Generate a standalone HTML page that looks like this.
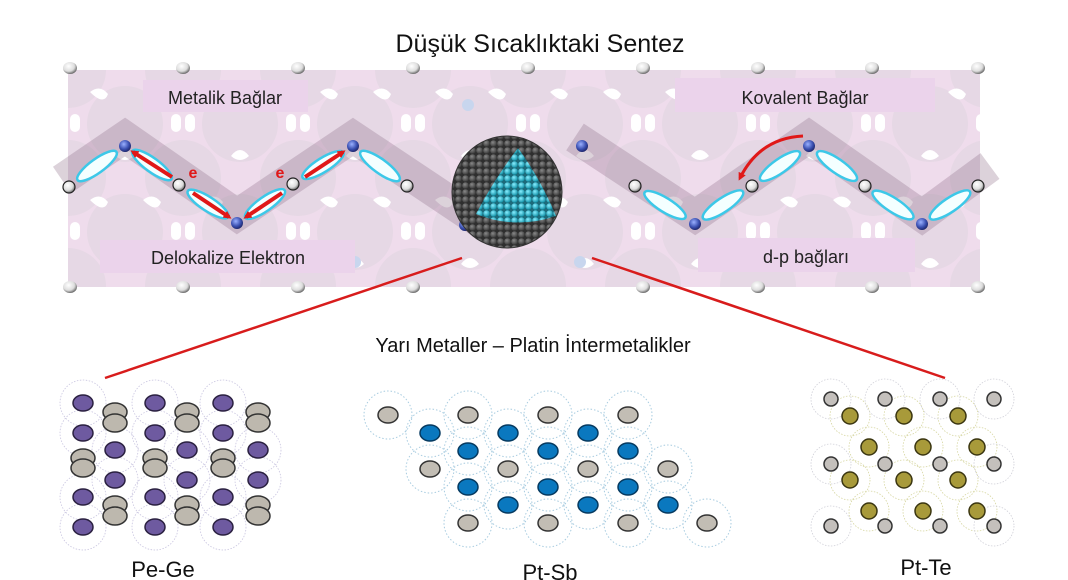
<!DOCTYPE html>
<html><head><meta charset="utf-8"><style>
html,body{margin:0;padding:0;background:#fff;}
svg{display:block;}
text{font-family:"Liberation Sans",sans-serif;}
</style></head><body>
<svg width="1068" height="580" viewBox="0 0 1068 580" xmlns="http://www.w3.org/2000/svg">
<defs>
<radialGradient id="wb" cx="0.4" cy="0.35" r="0.7"><stop offset="0" stop-color="#fff"/><stop offset="0.6" stop-color="#ddd"/><stop offset="1" stop-color="#555"/></radialGradient>
<radialGradient id="bb" cx="0.4" cy="0.35" r="0.7"><stop offset="0" stop-color="#9ab0ff"/><stop offset="0.6" stop-color="#3a4fb0"/><stop offset="1" stop-color="#1a2060"/></radialGradient>
<radialGradient id="gb" cx="0.4" cy="0.35" r="0.7"><stop offset="0" stop-color="#888"/><stop offset="1" stop-color="#333"/></radialGradient>
<radialGradient id="cb" cx="0.4" cy="0.35" r="0.7"><stop offset="0" stop-color="#8ef"/><stop offset="1" stop-color="#0a8aa0"/></radialGradient>
<pattern id="dots" width="7" height="7" patternUnits="userSpaceOnUse"><rect width="7" height="7" fill="#2e2e2e"/><circle cx="3.5" cy="3.5" r="3.3" fill="url(#gb)"/></pattern>
<pattern id="cdots" width="7" height="7" patternUnits="userSpaceOnUse"><rect width="7" height="7" fill="#1d6a7a"/><circle cx="3.5" cy="3.5" r="3.2" fill="url(#cb)"/></pattern>
<pattern id="lat" x="68" y="70" width="115" height="108" patternUnits="userSpaceOnUse">
<rect width="115" height="108" fill="#efdcec"/>
<circle cx="57" cy="54" r="38" fill="#ddd3dc" opacity="0.45"/>
<circle cx="0" cy="0" r="38" fill="#ddd3dc" opacity="0.45"/>
<circle cx="115" cy="0" r="38" fill="#ddd3dc" opacity="0.45"/>
<circle cx="0" cy="108" r="38" fill="#ddd3dc" opacity="0.45"/>
<circle cx="115" cy="108" r="38" fill="#ddd3dc" opacity="0.45"/>
<path d="M22 22 q10 -8 18 2 q-4 12 -18 -2z" fill="#fff"/>
<path d="M75 22 q10 -8 18 2 q-4 12 -18 -2z" fill="#fff"/>
<rect x="2" y="44" width="10" height="18" rx="5" fill="#fff"/>
<rect x="103" y="44" width="10" height="18" rx="5" fill="#fff"/>
<path d="M48 86 q9 -12 18 0 q-9 8 -18 0z" fill="#fff"/>
</pattern>
<clipPath id="sph"><ellipse cx="507" cy="192" rx="55" ry="56"/></clipPath>
<marker id="ah" markerWidth="8" markerHeight="8" refX="5" refY="4" orient="auto" markerUnits="userSpaceOnUse"><path d="M0 0 L8 4 L0 8z" fill="#e01818"/></marker>
</defs>

<text x="540" y="52" font-size="25" text-anchor="middle" fill="#111">Düşük Sıcaklıktaki Sentez</text>

<rect x="68" y="70" width="912" height="217" fill="url(#lat)"/>
<g fill="url(#wb)">
<ellipse cx="70" cy="68" rx="7" ry="6"/><ellipse cx="183" cy="68" rx="7" ry="6"/><ellipse cx="298" cy="68" rx="7" ry="6"/><ellipse cx="413" cy="68" rx="7" ry="6"/><ellipse cx="528" cy="68" rx="7" ry="6"/><ellipse cx="643" cy="68" rx="7" ry="6"/><ellipse cx="758" cy="68" rx="7" ry="6"/><ellipse cx="872" cy="68" rx="7" ry="6"/><ellipse cx="978" cy="68" rx="7" ry="6"/>
<ellipse cx="70" cy="287" rx="7" ry="6"/><ellipse cx="183" cy="287" rx="7" ry="6"/><ellipse cx="298" cy="287" rx="7" ry="6"/><ellipse cx="413" cy="287" rx="7" ry="6"/><ellipse cx="643" cy="287" rx="7" ry="6"/><ellipse cx="758" cy="287" rx="7" ry="6"/><ellipse cx="872" cy="287" rx="7" ry="6"/><ellipse cx="978" cy="287" rx="7" ry="6"/>
</g>
<circle cx="468" cy="105" r="6" fill="#c8d6ee"/><circle cx="580" cy="262" r="6" fill="#c8d6ee"/><circle cx="355" cy="262" r="6" fill="#c8d6ee"/>

<polyline points="62,180 125,137 237,215 353,137 470,215 480,222" fill="none" stroke="#8a6a84" stroke-opacity="0.3" stroke-width="32" stroke-linejoin="miter"/>
<polyline points="575,137 695,216 809,137 922,216 990,166" fill="none" stroke="#8a6a84" stroke-opacity="0.3" stroke-width="32" stroke-linejoin="miter"/>

<rect x="143" y="80" width="165" height="32" fill="#ebd3eb"/>
<text x="225" y="104" font-size="18" text-anchor="middle" fill="#222">Metalik Bağlar</text>
<rect x="675" y="78" width="260" height="34" fill="#ebd3eb"/>
<text x="805" y="104" font-size="18" text-anchor="middle" fill="#222">Kovalent Bağlar</text>
<rect x="100" y="240" width="255" height="33" fill="#ebd3eb"/>
<text x="228" y="264" font-size="18" text-anchor="middle" fill="#222">Delokalize Elektron</text>
<rect x="698" y="238" width="217" height="34" fill="#ebd3eb"/>
<text x="806" y="263" font-size="18" text-anchor="middle" fill="#222">d-p bağları</text>

<g fill="#f4ffff" stroke="#3cc8e8" stroke-width="2.5">
<ellipse cx="97" cy="166" rx="24" ry="7" transform="rotate(-36 97 166)"/>
<ellipse cx="152" cy="165" rx="24" ry="7" transform="rotate(36 152 165)"/>
<ellipse cx="208" cy="204" rx="24" ry="7" transform="rotate(33 208 204)"/>
<ellipse cx="265" cy="204" rx="24" ry="7" transform="rotate(-35 265 204)"/>
<ellipse cx="323" cy="165" rx="24" ry="7" transform="rotate(-32 323 165)"/>
<ellipse cx="380" cy="166" rx="24" ry="7" transform="rotate(36 380 166)"/>
<ellipse cx="665" cy="205" rx="24" ry="7" transform="rotate(32 665 205)"/>
<ellipse cx="723" cy="205" rx="24" ry="7" transform="rotate(-34 723 205)"/>
<ellipse cx="780" cy="166" rx="24" ry="7" transform="rotate(-35 780 166)"/>
<ellipse cx="837" cy="166" rx="24" ry="7" transform="rotate(35 837 166)"/>
<ellipse cx="893" cy="205" rx="24" ry="7" transform="rotate(33 893 205)"/>
<ellipse cx="950" cy="205" rx="24" ry="7" transform="rotate(-34 950 205)"/>
</g>
<g stroke="#222" stroke-width="1.2">
<circle cx="69" cy="187" r="6" fill="url(#wb)"/><circle cx="179" cy="185" r="6" fill="url(#wb)"/><circle cx="293" cy="184" r="6" fill="url(#wb)"/><circle cx="407" cy="186" r="6" fill="url(#wb)"/>
<circle cx="635" cy="186" r="6" fill="url(#wb)"/><circle cx="752" cy="186" r="6" fill="url(#wb)"/><circle cx="865" cy="186" r="6" fill="url(#wb)"/><circle cx="978" cy="186" r="6" fill="url(#wb)"/>
</g>
<g>
<circle cx="125" cy="146" r="6" fill="url(#bb)"/><circle cx="237" cy="223" r="6" fill="url(#bb)"/><circle cx="353" cy="146" r="6" fill="url(#bb)"/><circle cx="465" cy="225" r="6" fill="url(#bb)"/>
<circle cx="582" cy="146" r="6" fill="url(#bb)"/><circle cx="695" cy="224" r="6" fill="url(#bb)"/><circle cx="809" cy="146" r="6" fill="url(#bb)"/><circle cx="922" cy="224" r="6" fill="url(#bb)"/>
</g>
<g stroke="#e01818" stroke-width="4" marker-end="url(#ah)">
<line x1="172" y1="177" x2="133" y2="152"/>
<line x1="193" y1="193" x2="229" y2="217"/>
<line x1="282" y1="193" x2="246" y2="217"/>
<line x1="305" y1="177" x2="343" y2="152"/>
</g>
<text x="193" y="178" font-size="16" font-weight="bold" fill="#e01818" text-anchor="middle">e</text>
<text x="280" y="178" font-size="16" font-weight="bold" fill="#e01818" text-anchor="middle">e</text>
<path d="M803 136 Q760 138 740 178" fill="none" stroke="#e01818" stroke-width="3" marker-end="url(#ah)"/>

<ellipse cx="507" cy="192" rx="55" ry="56" fill="url(#dots)"/>
<g clip-path="url(#sph)">
<path d="M518 148 Q495 178 476 214 Q515 230 556 216 Q540 178 518 148z" fill="url(#cdots)"/>
</g>
<ellipse cx="507" cy="192" rx="55" ry="56" fill="none" stroke="#333" stroke-width="1"/>

<line x1="462" y1="258" x2="105" y2="378" stroke="#d81c1c" stroke-width="2.5"/>
<line x1="592" y1="258" x2="945" y2="378" stroke="#d81c1c" stroke-width="2.5"/>

<text x="533" y="352" font-size="20" text-anchor="middle" fill="#111">Yarı Metaller – Platin İntermetalikler</text>

<g fill="none" stroke="#c9c5e0" stroke-width="0.8" stroke-dasharray="1.5 1.5">
<circle cx="83" cy="403" r="23"/><circle cx="155" cy="403" r="23"/><circle cx="223" cy="403" r="23"/>
<circle cx="83" cy="433" r="23"/><circle cx="155" cy="433" r="23"/><circle cx="223" cy="433" r="23"/>
<circle cx="115" cy="450" r="23"/><circle cx="187" cy="450" r="23"/><circle cx="258" cy="450" r="23"/>
<circle cx="115" cy="480" r="23"/><circle cx="187" cy="480" r="23"/><circle cx="258" cy="480" r="23"/>
<circle cx="83" cy="497" r="23"/><circle cx="155" cy="497" r="23"/><circle cx="223" cy="497" r="23"/>
<circle cx="83" cy="527" r="23"/><circle cx="155" cy="527" r="23"/><circle cx="223" cy="527" r="23"/>
</g>
<g fill="#bdb8ae" stroke="#333" stroke-width="1.5">
<ellipse cx="115" cy="412" rx="12" ry="9"/><ellipse cx="115" cy="423" rx="12" ry="9"/>
<ellipse cx="187" cy="412" rx="12" ry="9"/><ellipse cx="187" cy="423" rx="12" ry="9"/>
<ellipse cx="258" cy="412" rx="12" ry="9"/><ellipse cx="258" cy="423" rx="12" ry="9"/>
<ellipse cx="83" cy="458" rx="12" ry="9"/><ellipse cx="83" cy="468" rx="12" ry="9"/>
<ellipse cx="155" cy="458" rx="12" ry="9"/><ellipse cx="155" cy="468" rx="12" ry="9"/>
<ellipse cx="223" cy="458" rx="12" ry="9"/><ellipse cx="223" cy="468" rx="12" ry="9"/>
<ellipse cx="115" cy="505" rx="12" ry="9"/><ellipse cx="115" cy="516" rx="12" ry="9"/>
<ellipse cx="187" cy="505" rx="12" ry="9"/><ellipse cx="187" cy="516" rx="12" ry="9"/>
<ellipse cx="258" cy="505" rx="12" ry="9"/><ellipse cx="258" cy="516" rx="12" ry="9"/>
</g>
<g fill="#6e5aa0" stroke="#2a2040" stroke-width="1.5">
<ellipse cx="83" cy="403" rx="10" ry="8"/><ellipse cx="155" cy="403" rx="10" ry="8"/><ellipse cx="223" cy="403" rx="10" ry="8"/>
<ellipse cx="83" cy="433" rx="10" ry="8"/><ellipse cx="155" cy="433" rx="10" ry="8"/><ellipse cx="223" cy="433" rx="10" ry="8"/>
<ellipse cx="115" cy="450" rx="10" ry="8"/><ellipse cx="187" cy="450" rx="10" ry="8"/><ellipse cx="258" cy="450" rx="10" ry="8"/>
<ellipse cx="115" cy="480" rx="10" ry="8"/><ellipse cx="187" cy="480" rx="10" ry="8"/><ellipse cx="258" cy="480" rx="10" ry="8"/>
<ellipse cx="83" cy="497" rx="10" ry="8"/><ellipse cx="155" cy="497" rx="10" ry="8"/><ellipse cx="223" cy="497" rx="10" ry="8"/>
<ellipse cx="83" cy="527" rx="10" ry="8"/><ellipse cx="155" cy="527" rx="10" ry="8"/><ellipse cx="223" cy="527" rx="10" ry="8"/>
</g>
<text x="163" y="577" font-size="22" text-anchor="middle" fill="#111">Pe-Ge</text>

<g fill="none" stroke="#a8cce0" stroke-width="1" stroke-dasharray="1.5 2">
<circle cx="388" cy="415" r="24"/><circle cx="468" cy="415" r="24"/><circle cx="548" cy="415" r="24"/><circle cx="628" cy="415" r="24"/>
<circle cx="430" cy="433" r="24"/><circle cx="508" cy="433" r="24"/><circle cx="588" cy="433" r="24"/>
<circle cx="468" cy="451" r="24"/><circle cx="548" cy="451" r="24"/><circle cx="628" cy="451" r="24"/>
<circle cx="430" cy="469" r="24"/><circle cx="508" cy="469" r="24"/><circle cx="588" cy="469" r="24"/><circle cx="668" cy="469" r="24"/>
<circle cx="468" cy="487" r="24"/><circle cx="548" cy="487" r="24"/><circle cx="628" cy="487" r="24"/>
<circle cx="508" cy="505" r="24"/><circle cx="588" cy="505" r="24"/><circle cx="668" cy="505" r="24"/>
<circle cx="468" cy="523" r="24"/><circle cx="548" cy="523" r="24"/><circle cx="628" cy="523" r="24"/><circle cx="707" cy="523" r="24"/>
</g>
<g fill="#c2bdb4" stroke="#333" stroke-width="1.5">
<ellipse cx="388" cy="415" rx="10" ry="8"/><ellipse cx="468" cy="415" rx="10" ry="8"/><ellipse cx="548" cy="415" rx="10" ry="8"/><ellipse cx="628" cy="415" rx="10" ry="8"/>
<ellipse cx="430" cy="469" rx="10" ry="8"/><ellipse cx="508" cy="469" rx="10" ry="8"/><ellipse cx="588" cy="469" rx="10" ry="8"/><ellipse cx="668" cy="469" rx="10" ry="8"/>
<ellipse cx="468" cy="523" rx="10" ry="8"/><ellipse cx="548" cy="523" rx="10" ry="8"/><ellipse cx="628" cy="523" rx="10" ry="8"/><ellipse cx="707" cy="523" rx="10" ry="8"/>
</g>
<g fill="#0a78bf" stroke="#063a60" stroke-width="1.5">
<ellipse cx="430" cy="433" rx="10" ry="8"/><ellipse cx="508" cy="433" rx="10" ry="8"/><ellipse cx="588" cy="433" rx="10" ry="8"/>
<ellipse cx="468" cy="451" rx="10" ry="8"/><ellipse cx="548" cy="451" rx="10" ry="8"/><ellipse cx="628" cy="451" rx="10" ry="8"/>
<ellipse cx="468" cy="487" rx="10" ry="8"/><ellipse cx="548" cy="487" rx="10" ry="8"/><ellipse cx="628" cy="487" rx="10" ry="8"/>
<ellipse cx="508" cy="505" rx="10" ry="8"/><ellipse cx="588" cy="505" rx="10" ry="8"/><ellipse cx="668" cy="505" rx="10" ry="8"/>
</g>
<text x="550" y="580" font-size="22" text-anchor="middle" fill="#111">Pt-Sb</text>

<g fill="none" stroke="#d6d6a0" stroke-width="0.8" stroke-dasharray="1.5 1.5">
<circle cx="850" cy="416" r="20"/><circle cx="904" cy="416" r="20"/><circle cx="958" cy="416" r="20"/>
<circle cx="869" cy="447" r="20"/><circle cx="923" cy="447" r="20"/><circle cx="977" cy="447" r="20"/>
<circle cx="850" cy="480" r="20"/><circle cx="904" cy="480" r="20"/><circle cx="958" cy="480" r="20"/>
<circle cx="869" cy="511" r="20"/><circle cx="923" cy="511" r="20"/><circle cx="977" cy="511" r="20"/>
</g>
<g fill="none" stroke="#d0d0d8" stroke-width="0.8" stroke-dasharray="1.5 1.5">
<circle cx="831" cy="399" r="20"/><circle cx="885" cy="399" r="20"/><circle cx="940" cy="399" r="20"/><circle cx="994" cy="399" r="20"/>
<circle cx="831" cy="464" r="20"/><circle cx="994" cy="464" r="20"/>
<circle cx="831" cy="526" r="20"/><circle cx="994" cy="526" r="20"/>
</g>
<g fill="#c4c0bc" stroke="#333" stroke-width="1.5">
<circle cx="831" cy="399" r="7"/><circle cx="885" cy="399" r="7"/><circle cx="940" cy="399" r="7"/><circle cx="994" cy="399" r="7"/>
<circle cx="831" cy="464" r="7"/><circle cx="885" cy="464" r="7"/><circle cx="940" cy="464" r="7"/><circle cx="994" cy="464" r="7"/>
<circle cx="831" cy="526" r="7"/><circle cx="885" cy="526" r="7"/><circle cx="940" cy="526" r="7"/><circle cx="994" cy="526" r="7"/>
</g>
<g fill="#a89a3a" stroke="#3a3510" stroke-width="1.5">
<circle cx="850" cy="416" r="8"/><circle cx="904" cy="416" r="8"/><circle cx="958" cy="416" r="8"/>
<circle cx="869" cy="447" r="8"/><circle cx="923" cy="447" r="8"/><circle cx="977" cy="447" r="8"/>
<circle cx="850" cy="480" r="8"/><circle cx="904" cy="480" r="8"/><circle cx="958" cy="480" r="8"/>
<circle cx="869" cy="511" r="8"/><circle cx="923" cy="511" r="8"/><circle cx="977" cy="511" r="8"/>
</g>
<text x="926" y="575" font-size="22" text-anchor="middle" fill="#111">Pt-Te</text>
</svg>
</body></html>
